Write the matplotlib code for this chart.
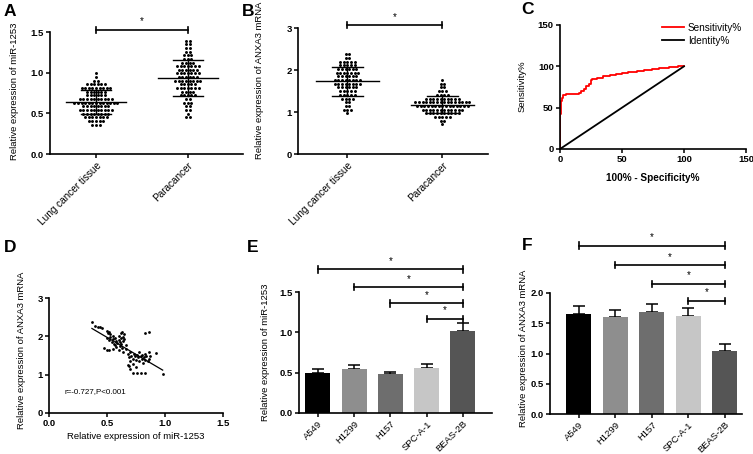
import matplotlib
matplotlib.use("Agg")
import matplotlib.pyplot as plt
import numpy as np

plt.rcParams["font.family"] = ["Liberation Sans", "DejaVu Sans"]

W, H = 753, 454

# --- panel A: miR-1253 in tissue ---
groups_ab = ["Lung cancer tissue", "Paracancer"]
mir_lung = [0.36, 0.37, 0.38,
            0.40, 0.40, 0.41, 0.42, 0.42,
            0.44, 0.44, 0.45, 0.45, 0.46, 0.46,
            0.47, 0.48, 0.48, 0.49, 0.49, 0.50, 0.50,
            0.51, 0.51, 0.52, 0.52, 0.53, 0.53, 0.54, 0.54,
            0.55, 0.55, 0.56, 0.56, 0.57, 0.57, 0.58, 0.58,
            0.59, 0.59, 0.60, 0.60, 0.61, 0.61, 0.62, 0.62, 0.62,
            0.63, 0.63, 0.64, 0.64, 0.64, 0.65, 0.65, 0.65, 0.66, 0.66, 0.66,
            0.67, 0.67, 0.68, 0.68, 0.68, 0.69, 0.69, 0.70,
            0.71, 0.72, 0.72, 0.73, 0.74,
            0.75, 0.75, 0.76, 0.77, 0.77, 0.78,
            0.79, 0.79, 0.80, 0.80, 0.81,
            0.82, 0.82, 0.83, 0.83, 0.84, 0.84, 0.85, 0.85,
            0.86, 0.87, 0.88,
            0.90, 0.93, 0.98]
mir_para = [0.43, 0.47, 0.50, 0.52, 0.55, 0.57,
            0.60, 0.62, 0.63, 0.65, 0.66, 0.68,
            0.70, 0.71, 0.72, 0.73, 0.74, 0.75, 0.76, 0.77,
            0.78, 0.79, 0.80, 0.80, 0.81, 0.82, 0.83, 0.83, 0.84,
            0.85, 0.86, 0.86, 0.87, 0.88, 0.88, 0.89, 0.90,
            0.90, 0.91, 0.92, 0.92, 0.93, 0.93, 0.94, 0.95, 0.95,
            0.96, 0.97, 0.97, 0.98, 0.99, 1.00, 1.00, 1.01,
            1.02, 1.02, 1.03, 1.04, 1.04, 1.05, 1.06, 1.06,
            1.07, 1.08, 1.08, 1.09, 1.10, 1.11,
            1.12, 1.13, 1.14, 1.15, 1.16,
            1.18, 1.20, 1.22, 1.23,
            1.26, 1.28, 1.30, 1.32, 1.34,
            1.36, 1.38, 1.40]

# --- panel B: ANXA3 in tissue ---
anxa_lung = [1.00, 1.03, 1.05, 1.08, 1.10, 1.13,
             1.20, 1.25, 1.28, 1.30, 1.33, 1.35, 1.38, 1.40,
             1.42, 1.44, 1.45, 1.47, 1.48, 1.50, 1.52, 1.53,
             1.55, 1.56, 1.58, 1.59, 1.60, 1.62, 1.63, 1.64,
             1.65, 1.66, 1.68, 1.69, 1.70, 1.71, 1.72, 1.73,
             1.74, 1.75, 1.77, 1.78, 1.79, 1.80, 1.82, 1.83,
             1.84, 1.86, 1.87, 1.88, 1.90, 1.91, 1.92, 1.94,
             1.95, 1.96, 1.98, 2.00, 2.01, 2.02, 2.04, 2.05,
             2.06, 2.08, 2.10, 2.12, 2.13, 2.15,
             2.16, 2.18, 2.20, 2.22, 2.24,
             2.28, 2.32, 2.36, 2.40]
anxa_para = [0.70, 0.78, 0.82, 0.85, 0.87, 0.88, 0.90,
             0.92, 0.93, 0.94, 0.95, 0.96, 0.97, 0.98, 0.99,
             1.00, 1.00, 1.01, 1.02, 1.03, 1.03, 1.04, 1.05, 1.05,
             1.06, 1.07, 1.07, 1.08, 1.09, 1.09, 1.10, 1.10, 1.11,
             1.12, 1.12, 1.13, 1.13, 1.14, 1.15, 1.15, 1.16, 1.16,
             1.17, 1.18, 1.18, 1.19, 1.19, 1.20, 1.20, 1.21, 1.21, 1.22,
             1.22, 1.23, 1.23, 1.24, 1.25, 1.25, 1.26, 1.26, 1.27,
             1.28, 1.28, 1.29, 1.30, 1.31, 1.32, 1.33,
             1.34, 1.35, 1.36, 1.38, 1.40, 1.42,
             1.44, 1.46, 1.48, 1.50, 1.55, 1.60, 1.65, 1.70, 1.75]

# --- panel C: ROC ---
roc_fpr = [0, 0, 0.5, 1, 1.5, 2.5, 5, 10, 15, 17, 19, 21, 23, 25, 26, 30,
           35, 40, 45, 50, 55, 62, 68, 74, 80, 88, 95, 100]
roc_tpr = [0, 42, 50, 58, 62, 65, 66, 67, 68, 70, 73, 76, 79, 83, 85, 86,
           88, 90, 91, 92, 93, 94, 95, 97, 98, 99, 100, 100]

# --- panel D: correlation ---
corr_pts = [(0.37, 2.37), (0.40, 2.27), (0.42, 2.25), (0.44, 2.24), (0.46, 2.22),
            (0.47, 1.70), (0.50, 1.65), (0.52, 1.65), (0.55, 1.66),
            (0.50, 2.15), (0.51, 2.10), (0.52, 2.12), (0.50, 1.95), (0.52, 1.90),
            (0.53, 1.98), (0.54, 1.85), (0.55, 1.92), (0.56, 1.80), (0.53, 2.05),
            (0.55, 2.00), (0.57, 1.78), (0.57, 1.95), (0.58, 1.88), (0.58, 1.72),
            (0.59, 1.82), (0.60, 2.02), (0.60, 1.90), (0.61, 1.75), (0.61, 1.85),
            (0.62, 2.08), (0.62, 1.95), (0.62, 1.80), (0.63, 2.12), (0.63, 1.70),
            (0.64, 1.98), (0.64, 1.88), (0.65, 2.05), (0.65, 1.92), (0.66, 1.78),
            (0.66, 1.68), (0.64, 1.60), (0.60, 1.65),
            (0.68, 1.55), (0.69, 1.45), (0.70, 1.60), (0.70, 1.35), (0.71, 1.50),
            (0.72, 1.28), (0.72, 1.42), (0.73, 1.55), (0.74, 1.48), (0.75, 1.38),
            (0.75, 1.20), (0.76, 1.52), (0.77, 1.45), (0.78, 1.35), (0.78, 1.58),
            (0.79, 1.48), (0.80, 1.40), (0.80, 1.52), (0.81, 1.30), (0.82, 1.45),
            (0.83, 1.55), (0.83, 1.38), (0.84, 1.48), (0.85, 1.35), (0.86, 1.42),
            (0.87, 1.50), (0.86, 1.58),
            (0.68, 1.25), (0.69, 1.22), (0.70, 1.15), (0.72, 1.05), (0.76, 1.04),
            (0.79, 1.05), (0.83, 1.04),
            (0.83, 2.10), (0.86, 2.12), (0.92, 1.57), (0.98, 1.02)]
corr_text = "r=-0.727,P<0.001"

# --- panels E, F: cell lines ---
cell_lines = ["A549", "H1299", "H157", "SPC-A-1", "BEAS-2B"]
mir_cells = [0.50, 0.55, 0.48, 0.56, 1.02]
mir_cells_err = [0.04, 0.05, 0.03, 0.05, 0.10]
anxa_cells = [1.66, 1.60, 1.68, 1.62, 1.04]
anxa_cells_err = [0.13, 0.12, 0.14, 0.13, 0.11]
bar_colors = ["#000000", "#8e8e8e", "#6e6e6e", "#c6c6c6", "#555555"]
# comparisons vs BEAS-2B: (start index, bar height)
sig_e = [(0, 1.78), (1, 1.56), (2, 1.36), (3, 1.165)]
sig_f = [(0, 2.78), (1, 2.46), (2, 2.15), (3, 1.87)]


def make_axes(fig, left, top, right, bottom):
    ax = fig.add_axes([left / W, 1 - bottom / H, (right - left) / W, (bottom - top) / H])
    ax.spines[["top", "right"]].set_visible(False)
    ax.spines[["left", "bottom"]].set_linewidth(1.2)
    ax.tick_params(direction="out", length=3, width=1.1, labelsize=6.8, pad=1.5)
    return ax


def bold_ticks(labels):
    for t in labels:
        t.set_fontweight("bold")


def set_ylab(ax, text, px, py, left, top, right, bottom, size=6.8):
    ax.set_ylabel(text, fontsize=size)
    ax.yaxis.label.set_va("center")
    ax.yaxis.set_label_coords((px - left) / (right - left), (bottom - py) / (bottom - top))


def dot_column(ax, x0, values, row_h, dx):
    values = np.asarray(values)
    rows = np.round(values / row_h) * row_h
    xs, ys = [], []
    for r in np.unique(rows):
        n = np.sum(rows == r)
        offs = (np.arange(n) - (n - 1) / 2) * dx
        xs.extend(x0 + offs)
        ys.extend([r] * n)
    ax.scatter(xs, ys, s=4.5, color="k", lw=0, clip_on=False, zorder=2)
    m, sd = values.mean(), values.std(ddof=1)
    ax.plot([x0 - 0.33, x0 + 0.33], [m, m], color="k", lw=1.0, zorder=3)
    ax.plot([x0, x0], [m - sd, m + sd], color="k", lw=1.0, zorder=3)
    for v in (m - sd, m + sd):
        ax.plot([x0 - 0.16, x0 + 0.16], [v, v], color="k", lw=1.0, zorder=3)


def sig_bar(ax, x1, x2, y, cap):
    kw = dict(color="k", lw=1.2, clip_on=False)
    ax.plot([x1, x2], [y, y], **kw)
    ax.plot([x1, x1], [y - cap, y + cap], **kw)
    ax.plot([x2, x2], [y - cap, y + cap], **kw)
    ax.annotate("*", xy=((x1 + x2) / 2, y), xytext=(0, 2.5), textcoords="offset points",
                ha="center", va="bottom", fontsize=7, annotation_clip=False)


fig = plt.figure(figsize=(W / 100, H / 100), dpi=100)

# panel A
box = (50, 32, 243, 154)
ax = make_axes(fig, *box)
dot_column(ax, 0, mir_lung, 0.045, 0.039)
dot_column(ax, 1, mir_para, 0.045, 0.039)
ax.set_xlim(-0.5, 1.6)
ax.set_ylim(0, 1.5)
ax.set_yticks([0, 0.5, 1.0, 1.5])
ax.set_yticklabels(["0.0", "0.5", "1.0", "1.5"])
ax.set_xticks([0, 1])
ax.set_xticklabels(groups_ab, rotation=45, ha="right", va="top", rotation_mode="anchor", fontsize=7.2)
bold_ticks(ax.get_yticklabels())
set_ylab(ax, "Relative expression of miR-1253", 15, 91, *box)
sig_bar(ax, 0, 1, 1.525, 0.035)

# panel B
box = (298, 28, 488, 154)
ax = make_axes(fig, *box)
dot_column(ax, 0, anxa_lung, 0.088, 0.038)
dot_column(ax, 1, anxa_para, 0.088, 0.038)
ax.set_xlim(-0.52, 1.48)
ax.set_ylim(0, 3)
ax.set_yticks([0, 1, 2, 3])
ax.set_xticks([0, 1])
ax.set_xticklabels(groups_ab, rotation=45, ha="right", va="top", rotation_mode="anchor", fontsize=7.2)
bold_ticks(ax.get_yticklabels())
set_ylab(ax, "Relative expression of ANXA3 mRNA", 259, 80, *box)
sig_bar(ax, 0, 1, 3.07, 0.07)

# panel C
box = (560, 25, 746, 149)
ax = make_axes(fig, *box)
ax.step(roc_fpr, roc_tpr, where="post", color="#ff0000", lw=1.3, label="Sensitivity%")
ax.plot([0, 100], [0, 100], color="k", lw=1.3, label="Identity%")
ax.set_xlim(0, 150)
ax.set_ylim(0, 150)
ax.set_xticks([0, 50, 100, 150])
ax.set_yticks([0, 50, 100, 150])
bold_ticks(ax.get_xticklabels() + ax.get_yticklabels())
set_ylab(ax, "Sensitivity%", 522, 86, *box)
ax.set_xlabel("100% - Specificity%", fontsize=7.2, fontweight="bold", labelpad=6)
ax.legend(loc="upper right", bbox_to_anchor=(1.0, 1.05), frameon=False, fontsize=7.2,
          handlelength=2.2, handletextpad=0.4, labelspacing=0.3, borderaxespad=0)

# panel D
box = (49, 298, 223, 413)
ax = make_axes(fig, *box)
cx = np.array([p[0] for p in corr_pts])
cy = np.array([p[1] for p in corr_pts])
ax.scatter(cx, cy, s=4, color="k", lw=0)
k, b = np.polyfit(cx, cy, 1)
xx = np.array([cx.min(), cx.max()])
ax.plot(xx, k * xx + b, color="k", lw=0.9)
ax.text(0.13, 0.52, corr_text, fontsize=5.8)
ax.set_xlim(0, 1.5)
ax.set_ylim(0, 3)
ax.set_xticks([0, 0.5, 1.0, 1.5])
ax.set_xticklabels(["0.0", "0.5", "1.0", "1.5"])
ax.set_yticks([0, 1, 2, 3])
bold_ticks(ax.get_xticklabels() + ax.get_yticklabels())
set_ylab(ax, "Relative expression of ANXA3 mRNA", 22, 350, *box)
ax.set_xlabel("Relative expression of miR-1253", fontsize=6.8, labelpad=3)


def bar_panel(box, vals, errs, xlim, ylim, yticks, yticklabels, sigs, cap, ylab, ylx, yly):
    ax = make_axes(fig, *box)
    x = np.arange(len(cell_lines))
    ax.bar(x, vals, width=0.69, color=bar_colors, zorder=2)
    ax.errorbar(x, vals, yerr=[np.zeros(len(errs)), errs], fmt="none", ecolor="k",
                elinewidth=1.1, capsize=4, capthick=1.1, zorder=1)
    ax.set_xlim(*xlim)
    ax.set_ylim(*ylim)
    ax.set_yticks(yticks)
    ax.set_yticklabels(yticklabels)
    ax.set_xticks(x)
    ax.set_xticklabels(cell_lines, rotation=45, ha="right", va="top", rotation_mode="anchor", fontsize=6.8)
    bold_ticks(ax.get_yticklabels())
    set_ylab(ax, ylab, ylx, yly, *box)
    for i, y in sigs:
        sig_bar(ax, i, len(cell_lines) - 1, y, cap)
    return ax


bar_panel((299, 292, 492, 413), mir_cells, mir_cells_err, (-0.52, 4.8), (0, 1.5),
          [0, 0.5, 1.0, 1.5], ["0.0", "0.5", "1.0", "1.5"], sig_e, 0.04,
          "Relative expression of miR-1253", 266, 352)
bar_panel((550, 293, 742, 414), anxa_cells, anxa_cells_err, (-0.79, 4.47), (0, 2.0),
          [0, 0.5, 1.0, 1.5, 2.0], ["0.0", "0.5", "1.0", "1.5", "2.0"], sig_f, 0.055,
          "Relative expression of ANXA3 mRNA", 523, 348)

# panel letters
for letter, px, py in [("A", 4, 12), ("B", 242, 12), ("C", 521, 10),
                       ("D", 4, 247), ("E", 247, 248), ("F", 522, 246)]:
    fig.text(px / W, 1 - py / H, letter, fontsize=12.5, fontweight="bold", va="center", ha="left")

fig.savefig("out.png", dpi=100)
